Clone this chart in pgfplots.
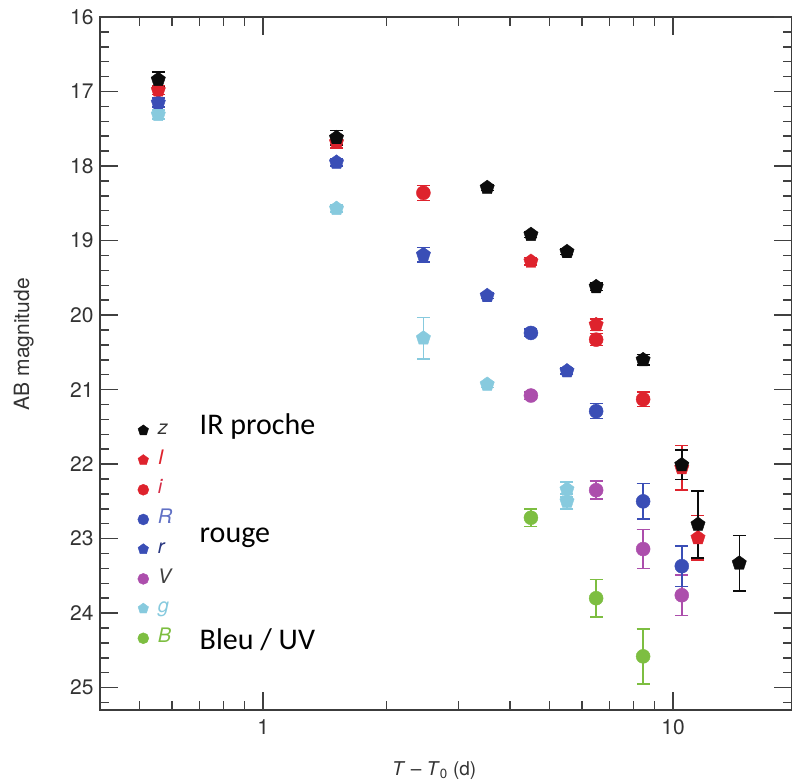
\documentclass[border=0pt]{standalone}
\usepackage{pgfplots}
\pgfplotsset{compat=1.18}
\usepackage{fontspec}
\setmainfont{TeX Gyre Heros}
\newfontfamily\calib{Carlito}
\usetikzlibrary{calc}

\definecolor{cz}{RGB}{12,12,12}
\definecolor{cred}{RGB}{222,35,45}
\definecolor{cblue}{RGB}{58,78,182}
\definecolor{cmag}{RGB}{172,78,172}
\definecolor{ccyan}{RGB}{135,202,222}
\definecolor{cgreen}{RGB}{125,190,65}
\definecolor{axisgray}{RGB}{60,60,60}

\pgfplotstableread{
x y e
0.555 16.84 0.10
1.51 17.62 0.10
3.52 18.29 0.04
4.50 18.92 0.04
5.51 19.15 0.04
6.49 19.62 0.05
8.45 20.60 0.07
10.5 22.01 0.20
11.5 22.81 0.45
14.5 23.33 0.37
}\zband
\pgfplotstableread{
x y e
0.555 16.98 0.06
1.51 17.68 0.08
4.50 19.28 0.05
6.49 20.13 0.08
10.5 22.05 0.30
11.5 22.99 0.30
}\Iband
\pgfplotstableread{
x y e
2.46 18.36 0.10
6.49 20.33 0.08
8.45 21.13 0.10
}\iband
\pgfplotstableread{
x y e
4.50 20.24 0.05
6.49 21.29 0.10
8.45 22.50 0.24
10.5 23.37 0.27
}\Rband
\pgfplotstableread{
x y e
0.555 17.15 0.06
1.51 17.95 0.05
2.46 19.19 0.10
3.52 19.74 0.04
5.51 20.75 0.04
}\rband
\pgfplotstableread{
x y e
4.50 21.08 0.05
6.49 22.35 0.12
8.45 23.14 0.26
10.5 23.76 0.27
}\Vband
\pgfplotstableread{
x y e
0.555 17.31 0.06
1.51 18.57 0.05
2.46 20.31 0.28
3.52 20.93 0.04
5.51 22.34 0.10
5.51 22.50 0.10
}\gband
\pgfplotstableread{
x y e
4.50 22.72 0.12
6.49 23.80 0.25
8.45 24.58 0.37
}\Bband

\begin{document}
\begin{tikzpicture}
\begin{axis}[
  name=ax,
  scale only axis,
  width=692pt, height=693pt,
  xmode=log,
  xmin=0.4, xmax=19.5,
  ymin=16, ymax=25.3,
  y dir=reverse,
  xtick={1,10}, xticklabels={1,10},
  ytick={16,17,18,19,20,21,22,23,24,25},
  minor y tick num=4,
  xtick pos=both, ytick pos=both,
  xtick align=inside, ytick align=inside,
  major tick length=16pt,
  minor tick length=8pt,
  tick style={color=axisgray, line width=1.5pt},
  axis line style={axisgray, line width=2pt},
  /pgf/number format/assume math mode=true,
  ticklabel style={font=\fontsize{21}{21}\selectfont, text=black!80},
  yticklabel style={xshift=-3pt},
  xticklabel style={yshift=-6pt},
  xlabel={\textit{T} – \textit{T}\textsubscript{0} (d)},
  ylabel={AB magnitude},
  every axis x label/.style={at={(axis description cs:0.483,-0.087)}, anchor=center, font=\fontsize{19}{19}\selectfont, text=black!80},
  every axis y label/.style={at={(axis description cs:-0.110,0.528)}, anchor=center, rotate=90, font=\fontsize{21}{21}\selectfont, text=black!80},
  legend style={at={(axis description cs:0.050,0.418)}, anchor=north west, draw=none, fill=none,
     font=\fontsize{20}{20}\selectfont\itshape, row sep=14pt, column sep=9pt,
     nodes={inner sep=0pt, text height=12pt, text depth=3.7pt}},
  legend cell align=left,
  legend image code/.code={\draw[#1, only marks] plot coordinates {(0pt,0pt)};},
  error bars/error bar style={line width=1.5pt},
  error bars/error mark options={rotate=90, mark size=6.5pt, line width=1.5pt},
]
\addplot[forget plot, only marks, mark=*, color=cgreen, mark size=7pt, error bars/.cd, y dir=both, y explicit] table[x=x, y=y, y error=e] {\Bband};
\addplot[forget plot, only marks, mark=pentagon*, color=ccyan, mark size=7.5pt, error bars/.cd, y dir=both, y explicit] table[x=x, y=y, y error=e] {\gband};
\addplot[forget plot, only marks, mark=*, color=cmag, mark size=7pt, error bars/.cd, y dir=both, y explicit] table[x=x, y=y, y error=e] {\Vband};
\addplot[forget plot, only marks, mark=pentagon*, color=cblue, mark size=7.5pt, error bars/.cd, y dir=both, y explicit] table[x=x, y=y, y error=e] {\rband};
\addplot[forget plot, only marks, mark=*, color=cblue, mark size=7pt, error bars/.cd, y dir=both, y explicit] table[x=x, y=y, y error=e] {\Rband};
\addplot[forget plot, only marks, mark=*, color=cred, mark size=7pt, error bars/.cd, y dir=both, y explicit] table[x=x, y=y, y error=e] {\iband};
\addplot[forget plot, only marks, mark=pentagon*, color=cred, mark size=7.5pt, error bars/.cd, y dir=both, y explicit] table[x=x, y=y, y error=e] {\Iband};
\addplot[forget plot, only marks, mark=pentagon*, color=cz, mark size=7.5pt, error bars/.cd, y dir=both, y explicit] table[x=x, y=y, y error=e] {\zband};

\addlegendimage{mark=pentagon*, cz, mark size=5.5pt}
\addlegendentry{\textcolor{black!80}{z}}
\addlegendimage{mark=pentagon*, cred, mark size=5.5pt}
\addlegendentry{\textcolor{cred}{I}}
\addlegendimage{mark=*, cred, mark size=5.5pt}
\addlegendentry{\textcolor{cred!80!cmag}{i}}
\addlegendimage{mark=*, cblue, mark size=5.5pt}
\addlegendentry{\textcolor{cblue!80}{R}}
\addlegendimage{mark=pentagon*, cblue, mark size=5.5pt}
\addlegendentry{\textcolor{cblue!70!black}{r}}
\addlegendimage{mark=*, cmag, mark size=5.5pt}
\addlegendentry{\textcolor{black!75}{V}}
\addlegendimage{mark=pentagon*, ccyan, mark size=5.5pt}
\addlegendentry{\textcolor{ccyan}{g}}
\addlegendimage{mark=*, cgreen, mark size=5.5pt}
\addlegendentry{\textcolor{cgreen}{B}}

% frame tick marks
\pgfplotsinvokeforeach{16,17,18,19,20,21,22,23,24,25}{
  \draw[black!75, line width=1.6pt] (axis cs:0.4,#1) -- ++(18pt,0pt);
  \draw[black!75, line width=1.6pt] (axis cs:19.5,#1) -- ++(-18pt,0pt);
}
\pgfplotsinvokeforeach{16.2,16.4,16.6,16.8,17.2,17.4,17.6,17.8,18.2,18.4,18.6,18.8,19.2,19.4,19.6,19.8,20.2,20.4,20.6,20.8,21.2,21.4,21.6,21.8,22.2,22.4,22.6,22.8,23.2,23.4,23.6,23.8,24.2,24.4,24.6,24.8,25.2}{
  \draw[black!75, line width=1.5pt] (axis cs:0.4,#1) -- ++(9pt,0pt);
  \draw[black!75, line width=1.5pt] (axis cs:19.5,#1) -- ++(-9pt,0pt);
}
\pgfplotsinvokeforeach{1,10}{
  \draw[black!75, line width=1.6pt] (axis cs:#1,25.3) -- ++(0pt,18pt);
  \draw[black!75, line width=1.6pt] (axis cs:#1,16) -- ++(0pt,-18pt);
}
\pgfplotsinvokeforeach{0.5,0.6,0.7,0.8,0.9,2,3,4,5,6,7,8,9}{
  \draw[black!75, line width=1.5pt] (axis cs:#1,25.3) -- ++(0pt,9pt);
  \draw[black!75, line width=1.5pt] (axis cs:#1,16) -- ++(0pt,-9pt);
}

\node[anchor=base west, font=\calib\fontsize{30}{30}\selectfont] at (axis description cs:0.139,0.397) {IR proche};
\node[anchor=base west, font=\calib\fontsize{30}{30}\selectfont] at (axis description cs:0.139,0.242) {rouge};
\node[anchor=base west, font=\calib\fontsize{30}{30}\selectfont] at (axis description cs:0.139,0.088) {Bleu / UV};
\coordinate (bl) at (axis description cs:0,0);
\coordinate (tr) at (axis description cs:1,1);
\end{axis}
\pgfresetboundingbox
\path[use as bounding box] ($(bl)+(-100pt,-70pt)$) rectangle ($(tr)+(0pt,17pt)$);
\end{tikzpicture}
\end{document}
